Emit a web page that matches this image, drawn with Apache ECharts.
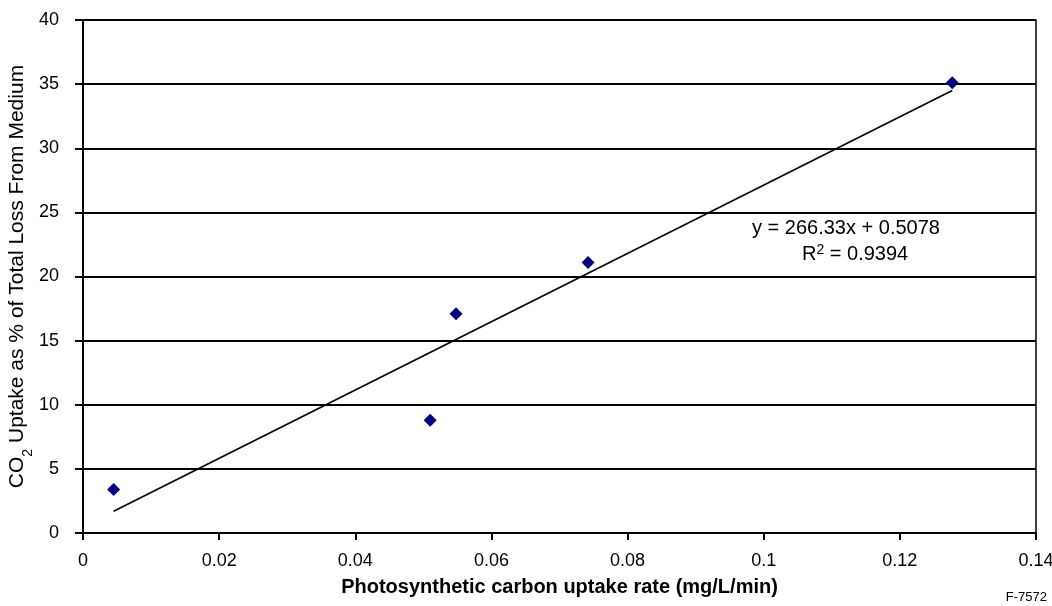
<!DOCTYPE html>
<html>
<head>
    <meta http-equiv=Content-Type content="text/html; charset=utf-8">
    <title>CO2 uptake</title>
    <script type="text/javascript" src="https://cdn.jsdelivr.net/npm/echarts@6/dist/echarts.min.js"></script>
    <style>
        html, body { margin: 0; padding: 0; background: #fff; }
        #chartmain { width: 1052px; height: 606px; }
    </style>
</head>
<body>
<div id="chartmain"></div>

<script type="text/javascript">
    // 数据
    var uptakeRate = [0.0045, 0.0510, 0.0548, 0.0742, 0.1277];
    var co2Share = [3.4, 8.8, 17.1, 21.1, 35.1];
    // 趋势线两端
    var trendX = [0.0045, 0.1277];
    var trendY = [1.7, 34.5];
    var equationText = 'y = 266.33x + 0.5078';
    var r2Value = '0.9394';

    var points = [];
    for (var i = 0; i < uptakeRate.length; i++) {
        points.push([uptakeRate[i], co2Share[i]]);
    }
    var trend = [];
    for (var j = 0; j < trendX.length; j++) {
        trend.push([trendX[j], trendY[j]]);
    }

    var myChart = echarts.init(document.getElementById('chartmain'));
    var font = '"Liberation Sans", Arial, sans-serif';

    var option = {
        animation: false,
        textStyle: { fontFamily: font },
        grid: {
            left: 83, right: 16, top: 20, bottom: 73,
            containLabel: false,
            outerBoundsMode: 'none',
            show: true,
            borderColor: '#000',
            borderWidth: 1.5
        },
        xAxis: {
            type: 'value',
            min: 0, max: 0.14, interval: 0.02,
            name: 'Photosynthetic carbon uptake rate (mg/L/min)',
            nameLocation: 'middle',
            nameGap: 44,
            nameMoveOverlap: false,
            nameTextStyle: { fontFamily: font, fontSize: 20, fontWeight: 'bold', color: '#000' },
            axisLine: { show: true, onZero: false, lineStyle: { color: '#000', width: 2 } },
            axisTick: { show: true, length: 7, lineStyle: { color: '#000', width: 2 } },
            axisLabel: { color: '#000', fontSize: 18, margin: 19, fontFamily: font },
            splitLine: { show: false }
        },
        yAxis: {
            type: 'value',
            min: 0, max: 40, interval: 5,
            name: 'CO{sub|2} Uptake as % of Total Loss From Medium',
            nameLocation: 'middle',
            nameGap: 55,
            nameRotate: 90,
            nameMoveOverlap: false,
            nameTextStyle: {
                fontFamily: font, fontSize: 21, color: '#000',
                rich: {
                    sub: { fontSize: 14, verticalAlign: 'bottom', padding: [0, 0, -7, 0], fontFamily: font, color: '#000' }
                }
            },
            axisLine: { show: true, lineStyle: { color: '#000', width: 2 } },
            axisTick: { show: true, length: 8, lineStyle: { color: '#000', width: 2 } },
            axisLabel: { color: '#000', fontSize: 18, margin: 24, fontFamily: font },
            splitLine: { show: true, lineStyle: { color: '#000', width: 2 } }
        },
        graphic: [
            {
                type: 'text', left: 752, top: 218,
                style: { text: equationText, fontFamily: font, fontSize: 20, fill: '#000' }
            },
            {
                type: 'text', left: 802, top: 243,
                style: {
                    text: 'R{sup|2} = ' + r2Value,
                    fontFamily: font, fontSize: 20, fill: '#000',
                    rich: {
                        sup: { fontSize: 14, verticalAlign: 'top', padding: [0, 0, 9, 0], fontFamily: font, fill: '#000' }
                    }
                }
            },
            {
                type: 'text', right: 5, top: 591,
                style: { text: 'F-7572', fontFamily: font, fontSize: 13, fill: '#000' }
            }
        ],
        series: [
            {
                name: 'trend',
                type: 'line',
                data: trend,
                symbol: 'none',
                lineStyle: { color: '#000', width: 1.6 },
                z: 2
            },
            {
                name: 'CO2',
                type: 'scatter',
                data: points,
                symbol: 'diamond',
                symbolSize: 13,
                itemStyle: { color: '#000080', opacity: 1 },
                z: 3
            }
        ]
    };
    myChart.setOption(option);
</script>
</body>
</html>
